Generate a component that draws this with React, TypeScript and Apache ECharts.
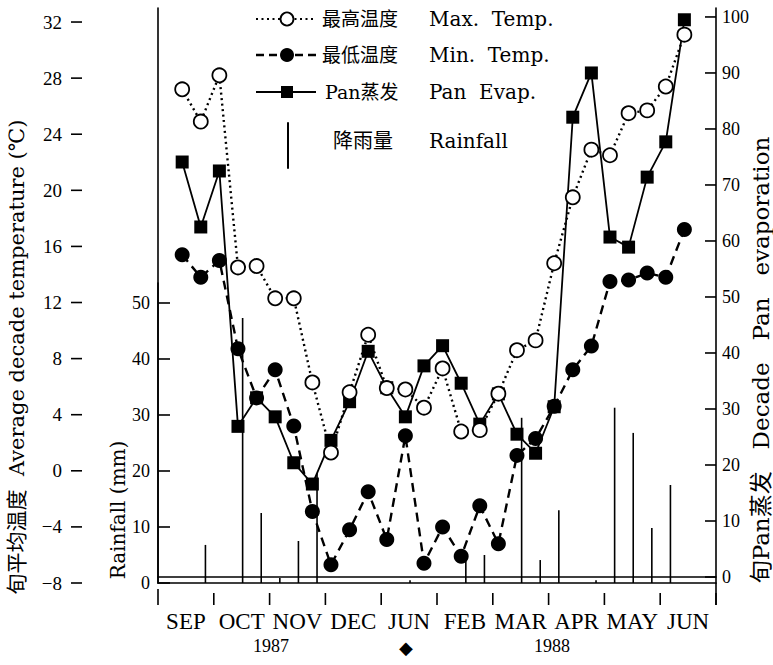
import React, { useEffect, useRef } from "react";
import * as echarts from "echarts";

// ---- data ----
const months = ["SEP", "OCT", "NOV", "DEC", "JUN", "FEB", "MAR", "APR", "MAY", "JUN"];
const tempTicks = [-8, -4, 0, 4, 8, 12, 16, 20, 24, 28, 32];
const rainTicks = [0, 10, 20, 30, 40, 50];
const panTicks = [0, 10, 20, 30, 40, 50, 60, 70, 80, 90, 100];

// decade temperatures / evaporation (28 decades, starting at 2nd decade of SEP 1987)
const maxTemp = [27.2, 24.9, 28.2, 14.5, 14.6, 12.3, 12.3, 6.3, 1.3, 5.6, 9.7, 5.9, 5.8, 4.5, 7.3, 2.8, 2.9, 5.5, 8.6, 9.3, 14.8, 19.5, 22.9, 22.5, 25.5, 25.7, 27.4, 31.1];
const minTemp = [15.4, 13.8, 15.0, 8.7, 5.2, 7.2, 3.2, -2.9, -6.7, -4.2, -1.5, -4.9, 2.5, -6.6, -4.0, -6.1, -2.5, -5.2, 1.1, 2.3, 4.6, 7.2, 8.9, 13.5, 13.6, 14.1, 13.8, 17.2];
const panEvap = [74.1, 62.5, 72.5, 26.9, 32.0, 28.6, 20.4, 16.6, 24.4, 31.3, 40.3, 33.8, 28.6, 37.7, 41.3, 34.6, 27.3, 32.7, 25.5, 22.1, 30.4, 82.1, 90.0, 60.7, 58.9, 71.4, 77.7, 99.5];
// rainfall per decade (30 decades, SEP 1987 .. JUN 1988)
const rainfall = [0, 0, 6.8, 0, 47.3, 12.5, 0.9, 7.5, 19.6, 0, 0, 0, 0, 0.5, 0, 0, 4.3, 5.0, 0, 29.5, 4.1, 13.0, 0, 0.5, 31.3, 26.8, 9.8, 17.5, 0, 0];

const POINT_START = 1.3; // decade position of the first temperature / evaporation point
const BAR_SHIFT = 0.55; // rainfall bar position inside its decade
const DECADES_PER_MONTH = 3;

const SERIF = '"Liberation Serif", "Noto Sans CJK SC", serif';
const WIDE_SERIF = '"DejaVu Serif", "Noto Sans CJK SC", serif';
const BLACK = "#000";
const TEMP_OFFSET = 87;
const MONTH_OFFSET = 22;

export default function App() {
  const ref = useRef<HTMLDivElement>(null);

  useEffect(() => {
    if (!ref.current) return;
    const chart = echarts.init(ref.current, null, { renderer: "svg" });

    const pts = (arr: number[]) => arr.map((v, i) => [i + POINT_START, v]);
    const rainPts = rainfall
      .map((v, k) => [k + BAR_SHIFT, v])
      .filter((d) => d[1] > 0);

    const cnFont = { fontSize: 19, fontFamily: SERIF, fill: BLACK, verticalAlign: "middle" };
    const enFont = { fontSize: 20, fontFamily: WIDE_SERIF, fill: BLACK, verticalAlign: "middle" };
    const textStyle = (text: string, fontSize: number, fontFamily = SERIF) => ({
      text,
      fontSize,
      fontFamily,
      fill: BLACK,
      align: "center",
      verticalAlign: "middle",
    });

    const graphics: any[] = [
      // legend
      { type: "line", shape: { x1: 256, y1: 19, x2: 316, y2: 19 }, style: { stroke: BLACK, lineWidth: 2.2, lineDash: [2, 3.5] } },
      { type: "circle", shape: { cx: 287, cy: 19, r: 6.5 }, style: { fill: "#fff", stroke: BLACK, lineWidth: 1.8 } },
      { type: "text", x: 322, y: 19, style: { ...cnFont, text: "最高温度" } },
      { type: "text", x: 429, y: 19, style: { ...enFont, text: "Max.  Temp." } },

      { type: "line", shape: { x1: 256, y1: 55, x2: 316, y2: 55 }, style: { stroke: BLACK, lineWidth: 2.4, lineDash: [8, 5] } },
      { type: "circle", shape: { cx: 287, cy: 55, r: 7 }, style: { fill: BLACK } },
      { type: "text", x: 322, y: 55, style: { ...cnFont, text: "最低温度" } },
      { type: "text", x: 429, y: 55, style: { ...enFont, text: "Min.  Temp." } },

      { type: "line", shape: { x1: 256, y1: 92, x2: 316, y2: 92 }, style: { stroke: BLACK, lineWidth: 1.8 } },
      { type: "rect", shape: { x: 281, y: 86, width: 12, height: 12 }, style: { fill: BLACK } },
      { type: "text", x: 325, y: 92, style: { ...cnFont, fontFamily: WIDE_SERIF, text: "Pan蒸发" } },
      { type: "text", x: 429, y: 92, style: { ...enFont, text: "Pan  Evap." } },

      { type: "line", shape: { x1: 288, y1: 123, x2: 288, y2: 168 }, style: { stroke: BLACK, lineWidth: 2, lineCap: "round" } },
      { type: "text", x: 333, y: 141, style: { ...cnFont, fontSize: 20, text: "降雨量" } },
      { type: "text", x: 429, y: 141, style: { ...enFont, text: "Rainfall" } },

      // axis titles
      { type: "text", x: 17, y: 357, rotation: Math.PI / 2, style: textStyle("旬平均温度  Average decade temperature (℃)", 21, WIDE_SERIF) },
      { type: "text", x: 118, y: 510, rotation: Math.PI / 2, style: textStyle("Rainfall (mm)", 20, WIDE_SERIF) },
      { type: "text", x: 761, y: 360, rotation: Math.PI / 2, style: textStyle("旬Pan蒸发   Decade   Pan   evaporation", 23, WIDE_SERIF) },

      // right axis continues down to the month bar
      { type: "line", shape: { x1: 716, y1: 583, x2: 716, y2: 605 }, style: { stroke: BLACK, lineWidth: 1.6 } },

      // years
      { type: "text", x: 271, y: 646, style: textStyle("1987", 18) },
      { type: "text", x: 406, y: 647, style: textStyle("◆", 18, '"DejaVu Sans", sans-serif') },
      { type: "text", x: 552, y: 646, style: textStyle("1988", 18) },
    ];

    const option: any = {
      animation: false,
      backgroundColor: "#fff",
      grid: [
        { left: 158, right: 57, top: 8, bottom: 82 },
        { left: 158, right: 57, top: 283, bottom: 82 },
      ],
      xAxis: [
        { type: "value", gridIndex: 0, position: "top", min: 0, max: 30, show: false },
        {
          type: "category",
          gridIndex: 0,
          position: "bottom",
          offset: MONTH_OFFSET,
          data: months,
          boundaryGap: true,
          axisLine: { show: true, lineStyle: { color: BLACK, width: 1.6 } },
          axisTick: { show: false },
          axisLabel: { color: BLACK, fontSize: 23, fontFamily: SERIF, margin: 5, interval: 0 },
          splitLine: { show: false },
        },
        {
          type: "value",
          gridIndex: 1,
          position: "bottom",
          min: 0,
          max: 30,
          axisLine: { show: true, onZero: false, lineStyle: { color: BLACK, width: 1.6 } },
          axisTick: { show: false },
          axisLabel: { show: false },
          splitLine: { show: false },
        },
      ],
      yAxis: [
        {
          type: "value",
          gridIndex: 0,
          position: "left",
          offset: TEMP_OFFSET,
          min: -8,
          max: 33,
          axisLine: { show: true, lineStyle: { color: BLACK, width: 1.6 } },
          axisTick: { show: false },
          axisLabel: {
            color: BLACK,
            fontSize: 19,
            fontFamily: SERIF,
            margin: 9,
            customValues: tempTicks,
            formatter: (v: number) => (v < 0 ? "\u2212" + Math.abs(v) : String(v)),
          },
          splitLine: { show: false },
        },
        {
          type: "value",
          gridIndex: 0,
          position: "right",
          min: -1.07,
          max: 101.6,
          axisLine: { show: true, lineStyle: { color: BLACK, width: 1.6 } },
          axisTick: { show: false },
          axisLabel: { color: BLACK, fontSize: 18, fontFamily: SERIF, margin: 6, customValues: panTicks },
          splitLine: { show: false },
        },
        {
          type: "value",
          gridIndex: 1,
          position: "left",
          min: 0,
          max: 53.57,
          axisLine: { show: true, lineStyle: { color: BLACK, width: 1.6 } },
          axisTick: { show: false },
          axisLabel: { color: BLACK, fontSize: 18, fontFamily: SERIF, margin: 8, customValues: rainTicks },
          splitLine: { show: false },
        },
      ],
      series: [
        {
          name: "降雨量 Rainfall",
          type: "bar",
          xAxisIndex: 2,
          yAxisIndex: 2,
          barWidth: 1.6,
          itemStyle: { color: BLACK },
          data: rainPts,
        },
        {
          name: "Pan蒸发 Pan Evap.",
          type: "line",
          xAxisIndex: 0,
          yAxisIndex: 1,
          symbol: "rect",
          symbolSize: 13,
          itemStyle: { color: BLACK },
          lineStyle: { color: BLACK, width: 1.8, type: "solid" },
          data: pts(panEvap),
        },
        {
          name: "最低温度 Min. Temp.",
          type: "line",
          xAxisIndex: 0,
          yAxisIndex: 0,
          symbol: "circle",
          symbolSize: 15,
          itemStyle: { color: BLACK },
          lineStyle: { color: BLACK, width: 2.4, type: [9, 6] },
          data: pts(minTemp),
        },
        {
          name: "最高温度 Max. Temp.",
          type: "line",
          xAxisIndex: 0,
          yAxisIndex: 0,
          symbol: "circle",
          symbolSize: 14,
          itemStyle: { color: "#fff", borderColor: BLACK, borderWidth: 1.8 },
          lineStyle: { color: BLACK, width: 2.4, type: [2, 3.5] },
          data: pts(maxTemp),
        },
      ],
      graphic: graphics,
    };

    chart.setOption(option);

    // axis ticks, placed through the axes' own scales
    const toPx = (finder: any, v: any) => chart.convertToPixel(finder, v) as unknown as number;
    const tick = (x1: number, y1: number, x2: number, y2: number) => ({
      type: "line",
      shape: { x1, y1, x2, y2 },
      style: { stroke: BLACK, lineWidth: 1.6 },
    });
    const xLeft = toPx({ xAxisIndex: 0 }, 0);
    const xRight = toPx({ xAxisIndex: 0 }, 30);
    const yBase = toPx({ yAxisIndex: 0 }, -8);
    const tempX = xLeft - TEMP_OFFSET;
    const ticks: any[] = [];
    tempTicks.forEach((v) => {
      const y = toPx({ yAxisIndex: 0 }, v);
      ticks.push(tick(tempX, y, tempX + 11, y));
    });
    panTicks.forEach((v) => {
      const y = toPx({ yAxisIndex: 1 }, v);
      ticks.push(tick(xRight - 11, y, xRight, y));
    });
    rainTicks.forEach((v) => {
      const y = toPx({ yAxisIndex: 2 }, v);
      ticks.push(tick(xLeft, y, xLeft + 12, y));
    });
    for (let m = 0; m <= months.length; m++) {
      const x = toPx({ xAxisIndex: 0 }, m * DECADES_PER_MONTH);
      const yb = yBase + MONTH_OFFSET;
      ticks.push(tick(x, yb - (m === 0 ? 16 : 12), x, yb));
    }
    chart.setOption({ graphic: [...graphics, ...ticks] });

    return () => chart.dispose();
  }, []);

  return (
    <div
      ref={ref}
      style={{ position: "fixed", left: 0, top: 0, width: 773, height: 665, background: "#fff" }}
    />
  );
}
